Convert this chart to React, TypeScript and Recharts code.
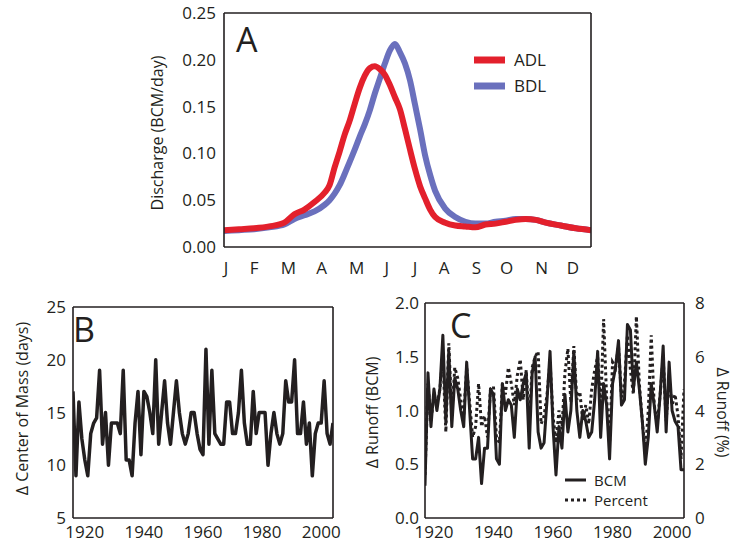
import React from 'react';
import { LineChart, Line, XAxis, YAxis, Legend } from 'recharts';

const FONT = '"Open Sans", "Noto Sans", "DejaVu Sans", sans-serif';
const INK = '#231f20';
const RED = '#e3202c';
const BLUE = '#6a70bd';

// ---------- Panel A : mean daily discharge ----------
const dayOfYear = [0, 15, 30, 45, 60, 70, 80, 90, 100, 105, 110, 115, 120, 125, 130, 135, 140, 145, 150, 155, 160, 165, 170, 175, 180, 185, 190, 195, 200, 205, 210, 220, 230, 240, 250, 260, 270, 280, 290, 300, 310, 320, 335, 350, 365];
const adlDischarge = [0.018, 0.019, 0.020, 0.022, 0.026, 0.035, 0.040, 0.048, 0.058, 0.066, 0.085, 0.102, 0.120, 0.135, 0.153, 0.170, 0.183, 0.191, 0.193, 0.190, 0.184, 0.173, 0.160, 0.147, 0.126, 0.104, 0.083, 0.065, 0.052, 0.040, 0.032, 0.026, 0.023, 0.022, 0.021, 0.024, 0.025, 0.027, 0.029, 0.030, 0.029, 0.026, 0.023, 0.020, 0.018];
const bdlDischarge = [0.017, 0.018, 0.019, 0.021, 0.024, 0.030, 0.034, 0.038, 0.045, 0.050, 0.057, 0.066, 0.078, 0.091, 0.104, 0.118, 0.131, 0.146, 0.164, 0.180, 0.196, 0.210, 0.217, 0.208, 0.196, 0.178, 0.152, 0.126, 0.098, 0.077, 0.060, 0.041, 0.032, 0.027, 0.025, 0.025, 0.027, 0.028, 0.030, 0.030, 0.029, 0.026, 0.023, 0.020, 0.018];
const monthLetters = ['J', 'F', 'M', 'A', 'M', 'J', 'J', 'A', 'S', 'O', 'N', 'D'];
const monthLabelDays = [2, 30, 64, 97, 132, 162, 190, 219, 251, 281, 316, 347];
const dischargeTicks = [0, 0.05, 0.1, 0.15, 0.2, 0.25];
const dischargeMinorTicks = [0.01, 0.02, 0.03, 0.04, 0.06, 0.07, 0.08, 0.09, 0.11, 0.12, 0.13, 0.14, 0.16, 0.17, 0.18, 0.19, 0.21, 0.22, 0.23, 0.24];
const dayMajorTicks = [100, 200, 300];
const dayMinorTicks = [20, 40, 60, 80, 120, 140, 160, 180, 220, 240, 260, 280, 320, 340, 360];

// ---------- Panel B : change in center of mass ----------
const startYearB = 1916;
const centerOfMassDelta = [17, 9, 16, 12.5, 10.5, 9, 13, 14, 14.5, 19, 12, 15, 10, 14, 14, 14, 13, 19, 10.5, 10.5, 9, 14, 17, 11, 17, 16.5, 15, 13, 20, 12, 15, 18, 14, 12, 15, 18, 15, 13, 12, 13, 15, 15, 13, 11.5, 11, 21, 12, 19, 13, 12.5, 12, 12, 16, 16, 13, 13, 15, 19, 14, 12, 12, 17, 13, 15, 15, 15, 10, 13, 15, 13, 12, 13, 18, 16, 16, 20, 13, 13, 16, 12, 14, 9, 13, 14, 14, 18, 13, 12, 14];
const comTicks = [5, 10, 15, 20, 25];
const comMinorTicks = [6, 7, 8, 9, 11, 12, 13, 14, 16, 17, 18, 19, 21, 22, 23, 24];

// ---------- Panel C : change in runoff ----------
const startYearC = 1917;
const runoffBCM = [0.3, 1.35, 0.85, 1.2, 1.0, 1.2, 1.7, 0.9, 1.55, 0.85, 1.3, 1.2, 1.0, 0.85, 1.45, 1.0, 0.55, 0.55, 0.75, 0.32, 0.65, 0.65, 1.2, 1.15, 0.55, 0.5, 1.25, 1.0, 1.1, 1.05, 0.75, 1.2, 1.1, 1.25, 1.35, 0.65, 1.35, 1.5, 0.8, 0.65, 0.7, 1.1, 1.55, 0.85, 0.4, 0.85, 0.65, 1.15, 0.8, 1.0, 1.55, 1.0, 0.75, 1.0, 0.9, 0.75, 0.8, 1.1, 1.55, 0.75, 1.25, 1.05, 0.55, 1.25, 1.4, 1.65, 1.05, 1.1, 1.8, 1.75, 1.2, 1.45, 1.2, 0.9, 0.5, 0.75, 1.25, 1.05, 0.8, 1.15, 1.6, 0.8, 1.45, 1.0, 0.9, 0.85, 0.45, 0.45];
const runoffPercent = [1.6, 5.0, 3.6, 4.6, 4.2, 4.8, 6.0, 3.2, 6.5, 3.8, 5.6, 5.2, 4.4, 3.8, 5.6, 4.3, 3.0, 3.4, 5.0, 3.4, 3.8, 3.0, 4.8, 4.9, 3.0, 2.8, 5.0, 4.6, 5.6, 5.0, 4.2, 5.3, 5.9, 4.4, 5.5, 3.6, 5.6, 6.0, 6.2, 3.5, 3.8, 4.6, 5.8, 3.8, 2.8, 4.0, 3.3, 5.4, 6.3, 4.3, 6.4, 4.4, 4.7, 3.6, 4.2, 3.5, 4.8, 5.5, 6.0, 4.0, 7.4, 4.5, 2.8, 5.8, 5.6, 6.4, 4.5, 5.0, 6.8, 5.5, 4.6, 7.5, 5.0, 3.6, 2.4, 4.0, 6.8, 4.2, 3.5, 4.6, 6.0, 3.6, 5.2, 4.2, 4.6, 3.8, 2.2, 4.8];
const bcmTicks = [0, 0.5, 1, 1.5, 2];
const bcmMinorTicks = [0.1, 0.2, 0.3, 0.4, 0.6, 0.7, 0.8, 0.9, 1.1, 1.2, 1.3, 1.4, 1.6, 1.7, 1.8, 1.9];
const pctTicks = [0, 2, 4, 6, 8];
const pctMinorTicks = [0.5, 1, 1.5, 2.5, 3, 3.5, 4.5, 5, 5.5, 6.5, 7, 7.5];

// shared year ticks
const yearTicks = [1920, 1940, 1960, 1980, 2000];
const yearMinorTicks = [1925, 1930, 1935, 1945, 1950, 1955, 1965, 1970, 1975, 1985, 1990, 1995];

const dataA = dayOfYear.map((d, i) => ({ day: d, ADL: adlDischarge[i], BDL: bdlDischarge[i] }));
const dataB = centerOfMassDelta.map((v, i) => ({ year: startYearB + i, com: v }));
const dataC = runoffBCM.map((v, i) => ({ year: startYearC + i, BCM: v, Percent: runoffPercent[i] }));

const tickStyle = { fill: INK, fontSize: 17, fontFamily: FONT };
const AXIS_W = 1.6;
const TICK_W = 1.3;
const EPS = 0.01;

// mirrored (inward) tick-only axes: they take no room in the layout
function tickX(id: string, orientation: 'top' | 'bottom', dom: [number, number], ticks: number[], size: number, line: boolean, label?: any) {
  return (
    <XAxis
      key={id}
      xAxisId={id}
      orientation={orientation}
      mirror
      type="number"
      domain={dom}
      allowDataOverflow
      ticks={ticks}
      interval={0}
      tick={false}
      tickSize={size}
      tickLine={size > 0 ? { stroke: INK, strokeWidth: TICK_W } : false}
      axisLine={line ? { stroke: INK, strokeWidth: AXIS_W } : false}
      height={EPS}
      stroke={INK}
      label={label}
    />
  );
}

function tickY(id: string, orientation: 'left' | 'right', dom: [number, number], ticks: number[], size: number, line: boolean) {
  return (
    <YAxis
      key={id}
      yAxisId={id}
      orientation={orientation}
      mirror
      type="number"
      domain={dom}
      allowDataOverflow
      ticks={ticks}
      interval={0}
      tick={false}
      tickSize={size}
      tickLine={size > 0 ? { stroke: INK, strokeWidth: TICK_W } : false}
      axisLine={line ? { stroke: INK, strokeWidth: AXIS_W } : false}
      width={EPS}
      stroke={INK}
    />
  );
}

function AxisTitle(props: any) {
  const vb = props.viewBox || { x: 0, y: 0, width: 0, height: 0 };
  const cx = vb.x + props.offX;
  const cy = vb.y + vb.height / 2 + (props.offY || 0);
  return (
    <text
      x={cx}
      y={cy}
      transform={`rotate(${props.rot} ${cx} ${cy})`}
      textAnchor="middle"
      dominantBaseline="central"
      fill={INK}
      fontSize={props.size}
      fontFamily={FONT}
    >
      {props.caption}
    </text>
  );
}

function PanelLetter(props: any) {
  const vb = props.viewBox || { x: 0, y: 0 };
  return (
    <text x={vb.x + props.offX} y={vb.y + props.offY} fontSize={34} fill={INK} fontFamily={FONT}>
      {props.letter}
    </text>
  );
}

function LegendA(props: any) {
  const payload = props.payload || [];
  const order = ['ADL', 'BDL'];
  return (
    <div style={{ fontFamily: FONT, color: INK }}>
      {order.map((name) => {
        const item = payload.find((p: any) => p.value === name);
        const color = item ? item.color : INK;
        return (
          <div key={name} style={{ display: 'flex', alignItems: 'center', height: 26 }}>
            <svg width={31} height={10} style={{ display: 'block' }}>
              <line x1={0} x2={31} y1={5} y2={5} stroke={color} strokeWidth={7} />
            </svg>
            <span style={{ marginLeft: 9, fontSize: 17, lineHeight: '26px' }}>{name}</span>
          </div>
        );
      })}
    </div>
  );
}

function LegendC() {
  const order = [
    { name: 'BCM', dash: undefined as string | undefined },
    { name: 'Percent', dash: '3 3' },
  ];
  return (
    <div style={{ fontFamily: FONT, color: INK }}>
      {order.map((it) => (
        <div key={it.name} style={{ display: 'flex', alignItems: 'center', height: 20 }}>
          <svg width={21} height={6} style={{ display: 'block' }}>
            <line x1={0} x2={21} y1={3} y2={3} stroke={INK} strokeWidth={3} strokeDasharray={it.dash} />
          </svg>
          <span style={{ marginLeft: 8, fontSize: 15, lineHeight: '20px' }}>{it.name}</span>
        </div>
      ))}
    </div>
  );
}

function ChartA() {
  const dom: [number, number] = [0, 365];
  const ydom: [number, number] = [0, 0.25];
  return (
    <LineChart width={733} height={290} data={dataA} margin={{ top: 13, right: 142, bottom: 13, left: 174 }}>
      <XAxis
        xAxisId="month"
        type="number"
        dataKey="day"
        domain={dom}
        allowDataOverflow
        ticks={monthLabelDays}
        interval={0}
        tickFormatter={(v: number) => monthLetters[monthLabelDays.indexOf(v)]}
        tickLine={false}
        tickSize={0}
        tickMargin={15}
        height={30}
        axisLine={false}
        tick={tickStyle}
      />
      {tickX('dMajor', 'bottom', dom, dayMajorTicks, 7, true)}
      {tickX('dMinor', 'bottom', dom, dayMinorTicks, 4, false)}
      {tickX('top', 'top', dom, dayMajorTicks, 0, true, <PanelLetter letter="A" offX={12} offY={39} />)}
      <YAxis
        yAxisId="q"
        type="number"
        domain={ydom}
        allowDataOverflow
        ticks={dischargeTicks}
        interval={0}
        tickLine={false}
        tickSize={0}
        tickMargin={8}
        tickFormatter={(v: number) => v.toFixed(2)}
        width={50}
        axisLine={false}
        tick={tickStyle}
        label={<AxisTitle caption="Discharge (BCM/day)" offX={-17} offY={3} rot={-90} size={16} />}
      />
      {tickY('qMajor', 'left', ydom, dischargeTicks, 7, true)}
      {tickY('qMinor', 'left', ydom, dischargeMinorTicks, 4, false)}
      {tickY('qRMajor', 'right', ydom, dischargeTicks, 7, true)}
      {tickY('qRMinor', 'right', ydom, dischargeMinorTicks, 4, false)}
      <Legend
        layout="vertical"
        align="center"
        verticalAlign="middle"
        wrapperStyle={{ position: 'absolute', left: 474, top: 47, width: 110 }}
        content={<LegendA />}
      />
      <Line xAxisId="month" yAxisId="q" type="monotone" dataKey="BDL" name="BDL" stroke={BLUE} strokeWidth={6} dot={false} isAnimationActive={false} />
      <Line xAxisId="month" yAxisId="q" type="monotone" dataKey="ADL" name="ADL" stroke={RED} strokeWidth={6} dot={false} isAnimationActive={false} />
    </LineChart>
  );
}

function ChartB() {
  const dom: [number, number] = [1916, 2004];
  const ydom: [number, number] = [5, 25];
  return (
    <LineChart width={380} height={254} data={dataB} margin={{ top: 17, right: 47, bottom: 6, left: 28 }}>
      <XAxis
        xAxisId="yr"
        type="number"
        dataKey="year"
        domain={dom}
        allowDataOverflow
        ticks={yearTicks}
        interval={0}
        tickLine={false}
        tickSize={0}
        tickMargin={8}
        height={20}
        axisLine={false}
        tick={tickStyle}
      />
      {tickX('bMajor', 'bottom', dom, yearTicks, 7, true)}
      {tickX('bMinor', 'bottom', dom, yearMinorTicks, 4, false)}
      {tickX('tMajor', 'top', dom, yearTicks, 7, true, <PanelLetter letter="B" offX={0} offY={35} />)}
      {tickX('tMinor', 'top', dom, yearMinorTicks, 4, false)}
      <YAxis
        yAxisId="com"
        type="number"
        domain={ydom}
        allowDataOverflow
        ticks={comTicks}
        interval={0}
        tickLine={false}
        tickSize={0}
        tickMargin={7}
        width={45}
        axisLine={false}
        tick={tickStyle}
        label={<AxisTitle caption="Δ Center of Mass (days)" offX={-6} offY={-4} rot={-90} size={16} />}
      />
      {tickY('lMajor', 'left', ydom, comTicks, 7, true)}
      {tickY('lMinor', 'left', ydom, comMinorTicks, 4, false)}
      {tickY('rMajor', 'right', ydom, comTicks, 7, true)}
      {tickY('rMinor', 'right', ydom, comMinorTicks, 4, false)}
      <Line xAxisId="yr" yAxisId="com" type="linear" dataKey="com" stroke={INK} strokeWidth={3.5} strokeLinejoin="round" dot={false} isAnimationActive={false} />
    </LineChart>
  );
}

function ChartC() {
  const dom: [number, number] = [1917, 2004];
  const ydom: [number, number] = [0, 2];
  const pdom: [number, number] = [0, 8];
  return (
    <LineChart width={383} height={254} data={dataC} margin={{ top: 13, right: 19, bottom: 6, left: 35 }}>
      <XAxis
        xAxisId="yr"
        type="number"
        dataKey="year"
        domain={dom}
        allowDataOverflow
        ticks={yearTicks}
        interval={0}
        tickLine={false}
        tickSize={0}
        tickMargin={8}
        height={20}
        axisLine={false}
        tick={tickStyle}
      />
      {tickX('bMajor', 'bottom', dom, yearTicks, 7, true)}
      {tickX('bMinor', 'bottom', dom, yearMinorTicks, 4, false)}
      {tickX('tMajor', 'top', dom, yearTicks, 7, true, <PanelLetter letter="C" offX={25} offY={35} />)}
      {tickX('tMinor', 'top', dom, yearMinorTicks, 4, false)}
      <YAxis
        yAxisId="bcm"
        type="number"
        domain={ydom}
        allowDataOverflow
        ticks={bcmTicks}
        interval={0}
        tickLine={false}
        tickSize={0}
        tickMargin={6}
        tickFormatter={(v: number) => v.toFixed(1)}
        width={40}
        axisLine={false}
        tick={tickStyle}
        label={<AxisTitle caption="Δ Runoff (BCM)" offX={-13} offY={2} rot={-90} size={16} />}
      />
      {tickY('lMajor', 'left', ydom, bcmTicks, 7, true)}
      {tickY('lMinor', 'left', ydom, bcmMinorTicks, 4, false)}
      <YAxis
        yAxisId="pct"
        orientation="right"
        type="number"
        domain={pdom}
        allowDataOverflow
        ticks={pctTicks}
        interval={0}
        tickLine={false}
        tickSize={0}
        tickMargin={11}
        width={30}
        axisLine={false}
        tick={tickStyle}
        label={<AxisTitle caption="Δ Runoff (%)" offX={39} offY={2} rot={90} size={16} />}
      />
      {tickY('rMajor', 'right', pdom, pctTicks, 7, true)}
      {tickY('rMinor', 'right', pdom, pctMinorTicks, 4, false)}
      <Legend
        layout="vertical"
        align="center"
        verticalAlign="middle"
        wrapperStyle={{ position: 'absolute', left: 215, top: 180, width: 120 }}
        content={<LegendC />}
      />
      <Line xAxisId="yr" yAxisId="pct" type="linear" dataKey="Percent" stroke={INK} strokeWidth={3} strokeDasharray="3 3" dot={false} isAnimationActive={false} />
      <Line xAxisId="yr" yAxisId="bcm" type="linear" dataKey="BCM" stroke={INK} strokeWidth={3} strokeLinejoin="round" dot={false} isAnimationActive={false} />
    </LineChart>
  );
}

export default function App() {
  return (
    <div style={{ position: 'absolute', left: 0, top: 0, width: 733, height: 544, background: '#fff', fontFamily: FONT }}>
      <div style={{ position: 'absolute', left: 0, top: 0 }}>
        <ChartA />
      </div>
      <div style={{ position: 'absolute', left: 0, top: 290 }}>
        <ChartB />
      </div>
      <div style={{ position: 'absolute', left: 350, top: 290 }}>
        <ChartC />
      </div>
    </div>
  );
}
